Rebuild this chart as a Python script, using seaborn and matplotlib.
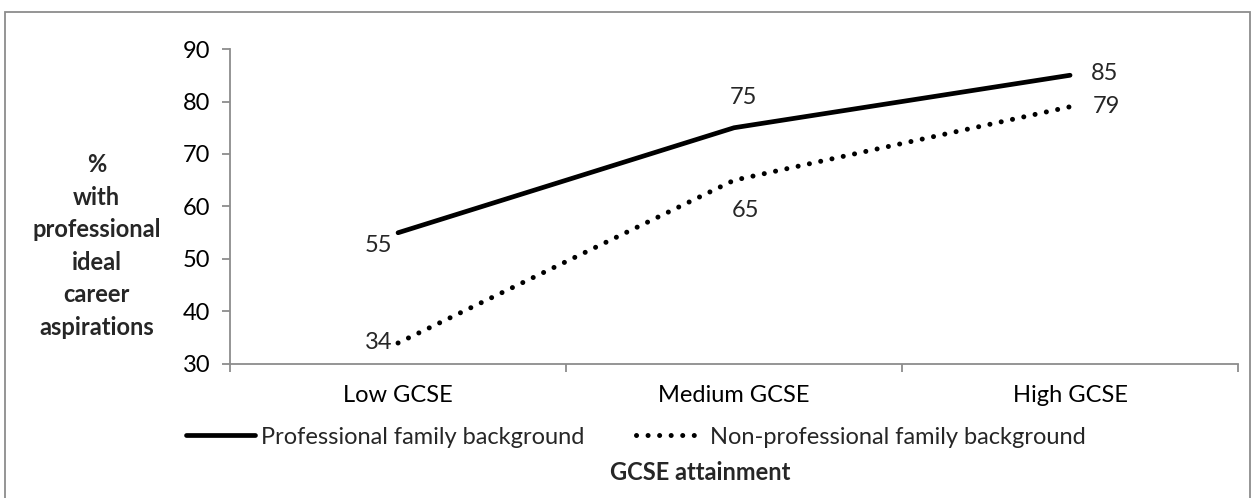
import matplotlib
matplotlib.use("Agg")
import matplotlib.pyplot as plt
from matplotlib.patches import Rectangle
from matplotlib.lines import Line2D
import pandas as pd
import seaborn as sns

# Data
categories = ["Low GCSE", "Medium GCSE", "High GCSE"]
professional = [55, 75, 85]
non_professional = [34, 65, 79]
series_names = ["Professional family background", "Non-professional family background"]
y_ticks = [30, 40, 50, 60, 70, 80, 90]

sns.set_theme(style="white")
plt.rcParams["font.family"] = ["Lato", "DejaVu Sans"]

df = pd.DataFrame({
    "pos": list(range(len(categories))) * 2,
    "value": professional + non_professional,
    "series": [series_names[0]] * 3 + [series_names[1]] * 3,
})

FS = 17
SOLID_LW = 3.4
DOT_LW = 3.6
DOTS = (0.01, 2.3)

fig = plt.figure(figsize=(12.55, 4.98), dpi=100)
ax = fig.add_axes([0.1833, 0.2691, 0.8032, 0.6325])

sns.lineplot(
    data=df, x="pos", y="value", hue="series", style="series",
    palette={series_names[0]: "black", series_names[1]: "black"},
    dashes={series_names[0]: "", series_names[1]: DOTS},
    ax=ax, legend=False, sort=False,
)
lines = ax.get_lines()
lines[0].set_linewidth(SOLID_LW)
lines[0].set_solid_capstyle("round")
lines[0].set_solid_joinstyle("round")
lines[1].set_linewidth(DOT_LW)
lines[1].set_dash_capstyle("round")

ax.set_xlim(-0.5, 2.5)
ax.set_ylim(30, 90)
ax.set_yticks(y_ticks)
ax.set_xticks([-0.5, 0.5, 1.5, 2.5])
ax.set_xticklabels([])
ax.set_xticks(range(len(categories)), minor=True)
ax.set_xticklabels(categories, minor=True)
ax.set_xlabel("")
ax.set_ylabel("")

axis_grey = "#8c8c8c"
for side in ["top", "right"]:
    ax.spines[side].set_visible(False)
for side in ["left", "bottom"]:
    ax.spines[side].set_color(axis_grey)
    ax.spines[side].set_linewidth(1.3)

ax.tick_params(axis="y", which="major", direction="out", length=6, width=1.3,
               color=axis_grey, labelsize=FS, labelcolor="black", pad=8, left=True)
ax.tick_params(axis="x", which="major", direction="out", length=6, width=1.3,
               color=axis_grey, bottom=True)
ax.tick_params(axis="x", which="minor", length=0, labelsize=FS,
               labelcolor="black", pad=15)

# Data labels
label_offsets_prof = [(-14, -9), (7, 22), (25, 1)]
label_offsets_non = [(-14, 0), (8, -22), (26, 0)]
for i, v in enumerate(professional):
    dx, dy = label_offsets_prof[i]
    ax.annotate(f"{v}", (i, v), xytext=(dx, dy), textcoords="offset points",
                ha="center", va="center", fontsize=FS)
for i, v in enumerate(non_professional):
    dx, dy = label_offsets_non[i]
    ax.annotate(f"{v}", (i, v), xytext=(dx, dy), textcoords="offset points",
                ha="center", va="center", fontsize=FS)

# Legend below the axis labels
handles = [
    Line2D([], [], color="black", lw=SOLID_LW, solid_capstyle="round"),
    Line2D([], [], color="black", lw=DOT_LW, dashes=DOTS, dash_capstyle="round"),
]
fig.legend(handles, series_names, loc="center", bbox_to_anchor=(0.507, 0.122),
           ncol=2, frameon=False, fontsize=FS, handlelength=2.9,
           handletextpad=0.25, columnspacing=2.2)

fig.text(0.558, 0.052, "GCSE attainment", ha="center", va="center",
         fontsize=FS, fontweight="bold")
fig.text(0.077, 0.506, "%\nwith\nprofessional\nideal\ncareer\naspirations",
         ha="center", va="center", fontsize=FS, fontweight="bold",
         linespacing=1.5, multialignment="center")

# Outer chart frame
fig.patches.append(Rectangle((0.004, -0.05), 0.992, 1.026, transform=fig.transFigure,
                             fill=False, edgecolor="#8c8c8c", linewidth=1.3))

fig.savefig("out.png", dpi=100)
